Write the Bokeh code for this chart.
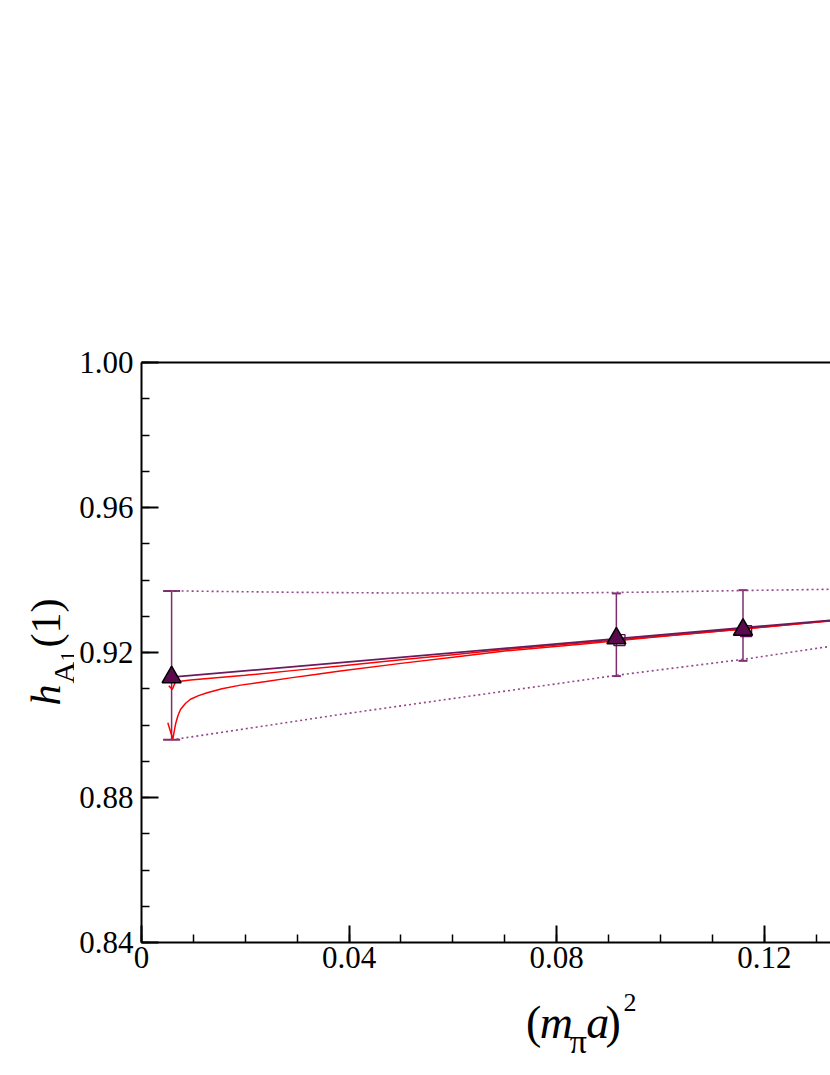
from bokeh.plotting import figure
from bokeh.layouts import row, column
from bokeh.models import Range1d, FixedTicker, LinearAxis, Whisker, ColumnDataSource, TeeHead, Label
from bokeh.embed import file_html
from bokeh.resources import INLINE

# ---------------- data ----------------
x_major = [0.0, 0.04, 0.08, 0.12]
x_labels = ["0", "0.04", "0.08", "0.12"]
x_minor = [0.01 * i for i in range(14)]
y_major = [0.84, 0.88, 0.92, 0.96, 1.00]
y_labels = ["0.84", "0.88", "0.92", "0.96", "1.00"]
y_minor = [0.84 + 0.01 * i for i in range(17)]

pt_x = [0.0058, 0.0915, 0.1159]
pt_y = [0.9132, 0.9239, 0.9263]
pt_lo = [0.8959, 0.9135, 0.9177]
pt_hi = [0.9370, 0.9363, 0.9372]

sq_x = [0.0921, 0.1165]
sq_y = [0.9234, 0.9259]

fit_x = [0.0058, 0.1360]
fit_y = [0.9132, 0.9293]

red1_x = [0.00526, 0.00592, 0.00655, 0.0075, 0.00944, 0.0150, 0.0200, 0.0290,
          0.0383, 0.0500, 0.0600, 0.0700, 0.0846, 0.1000, 0.1159, 0.1360]
red1_y = [0.9108, 0.9098, 0.9119, 0.9121, 0.9124, 0.9131, 0.9137, 0.9150,
          0.9163, 0.9180, 0.9194, 0.9208, 0.9226, 0.9245, 0.9265, 0.9292]

red2_x = [0.00507, 0.00603, 0.00655, 0.0070, 0.00751, 0.0085, 0.00944, 0.0110,
          0.01266, 0.0155, 0.01908, 0.0240, 0.02871, 0.0335, 0.0383, 0.0500,
          0.0600, 0.0700, 0.0846, 0.1000, 0.1159, 0.1360]
red2_y = [0.9006, 0.8961, 0.9002, 0.9025, 0.9043, 0.9060, 0.9071, 0.9081,
          0.9089, 0.9100, 0.9110, 0.9120, 0.9130, 0.9139, 0.9149, 0.9170,
          0.9187, 0.9204, 0.9223, 0.9244, 0.9265, 0.9291]

band_hi_x = [0.0058, 0.0300, 0.0500, 0.0800, 0.1000, 0.1159, 0.1360]
band_hi_y = [0.9370, 0.9366, 0.9364, 0.9364, 0.9367, 0.9371, 0.9375]
band_lo_x = [0.0058, 0.0383, 0.0846, 0.0915, 0.1159, 0.1360]
band_lo_y = [0.8959, 0.9029, 0.9123, 0.9137, 0.9181, 0.9224]

X_MAX = 0.13276
Y_MIN, Y_MAX = 0.84, 1.00

y_title = ["h", "A", "1", "(1)"]
x_title = ["(", "m", "π", "a", ")", "2"]

# ---------------- styles / layout ----------------
FONT = "Liberation Serif"
PURPLE = "#6a1b5e"
PURPLE_EB = "#7d2e6e"
PURPLE_DOT = "#94468a"
TRI_FILL = "#5b0a4e"
RED = "#ff0000"

TOTAL_W, TOTAL_H = 830, 1070
YT_W = 74                      # strip holding the rotated y title
FRAME_L, FRAME_T, FRAME_W, FRAME_H = 141, 362, 689, 580
MAIN_H = 983                   # main figure height (page y of its bottom)
XT_H = TOTAL_H - MAIN_H        # strip holding the x title
MAIN_W = TOTAL_W - YT_W

p = figure(width=MAIN_W, height=MAIN_H, output_backend="svg", toolbar_location=None,
           x_range=Range1d(0, X_MAX), y_range=Range1d(Y_MIN, Y_MAX),
           min_border_left=FRAME_L - YT_W, min_border_right=0, min_border_top=FRAME_T,
           min_border_bottom=MAIN_H - FRAME_T - FRAME_H)
p.outline_line_color = None
p.grid.visible = False

for ax in (p.xaxis[0], p.yaxis[0]):
    ax.axis_line_width = 2
    ax.axis_line_color = "black"
    ax.major_tick_in = 17
    ax.major_tick_out = 0
    ax.minor_tick_in = 8
    ax.minor_tick_out = 0
    ax.major_tick_line_width = 2
    ax.minor_tick_line_width = 1.5
    ax.major_label_text_font = FONT
    ax.major_label_text_font_size = "31px"
    ax.major_label_text_color = "black"

p.xaxis[0].ticker = FixedTicker(ticks=x_major, minor_ticks=x_minor)
p.xaxis[0].major_label_overrides = {v: s for v, s in zip(x_major, x_labels)}
p.xaxis[0].major_label_standoff = 4
p.yaxis[0].ticker = FixedTicker(ticks=y_major, minor_ticks=y_minor)
p.yaxis[0].major_label_overrides = {v: s for v, s in zip(y_major, y_labels)}
p.yaxis[0].major_label_standoff = 8

top = LinearAxis(ticker=FixedTicker(ticks=[]), axis_line_width=2, axis_line_color="black",
                 major_tick_in=0, major_tick_out=0, minor_tick_in=0, minor_tick_out=0,
                 major_label_text_font_size="0px")
p.add_layout(top, "above")

# ---------------- marks ----------------
p.line(band_hi_x, band_hi_y, line_color=PURPLE_DOT, line_width=1.6, line_dash="2 3")
p.line(band_lo_x, band_lo_y, line_color=PURPLE_DOT, line_width=1.6, line_dash="2 3")

src0 = ColumnDataSource(dict(x=pt_x[:1], lo=pt_lo[:1], hi=pt_hi[:1]))
src1 = ColumnDataSource(dict(x=pt_x[1:], lo=pt_lo[1:], hi=pt_hi[1:]))
for src, cap in ((src0, 17), (src1, 9)):
    wk = Whisker(source=src, base="x", lower="lo", upper="hi", dimension="height",
                 line_color=PURPLE_EB, line_width=1.5,
                 upper_head=TeeHead(size=cap, line_color=PURPLE_EB, line_width=2),
                 lower_head=TeeHead(size=cap, line_color=PURPLE_EB, line_width=2))
    p.add_layout(wk)

p.line(red1_x, red1_y, line_color=RED, line_width=1.5)
p.line(red2_x, red2_y, line_color=RED, line_width=1.5)
p.line(fit_x, fit_y, line_color=PURPLE, line_width=1.8)

p.scatter(sq_x, sq_y, marker="square", size=11, fill_color=None, line_color=TRI_FILL, line_width=1.3)
p.scatter(pt_x, pt_y, marker="triangle", size=19, fill_color=TRI_FILL, line_color="black", line_width=1.5)


# ---------------- title strips (pixel-coordinate figures holding text) ----------------
def strip(w, h):
    f = figure(width=w, height=h, output_backend="svg", toolbar_location=None,
               x_range=Range1d(0, w), y_range=Range1d(0, h),
               x_axis_type=None, y_axis_type=None,
               min_border=0, min_border_left=0, min_border_right=0,
               min_border_top=0, min_border_bottom=0)
    f.outline_line_color = None
    f.grid.visible = False
    return f


def put(f, h, txt, lx, ly, size, italic=False, angle=0.0):
    f.add_layout(Label(x=lx, y=h - ly, text=txt, text_font=FONT,
                       text_font_size=f"{size}px",
                       text_font_style="italic" if italic else "normal",
                       text_align="left", text_baseline="alphabetic",
                       angle=angle, angle_units="deg", text_color="black"))


yt = strip(YT_W, TOTAL_H)
put(yt, TOTAL_H, y_title[0], 45, 705, 42, italic=True, angle=90)
put(yt, TOTAL_H, y_title[1], 63, 683, 30, angle=90)
put(yt, TOTAL_H, y_title[2], 67, 661, 21, angle=90)
put(yt, TOTAL_H, y_title[3], 45, 647, 42, angle=90)

xt = strip(MAIN_W, XT_H)
ox, oy = YT_W, MAIN_H          # page offset of this strip
put(xt, XT_H, x_title[0], 496 - ox, 1022 - oy, 46)
put(xt, XT_H, x_title[1], 511 - ox, 1022 - oy, 46, italic=True)
put(xt, XT_H, x_title[2], 544 - ox, 1041 - oy, 34)
put(xt, XT_H, x_title[3], 562 - ox, 1022 - oy, 46, italic=True)
put(xt, XT_H, x_title[4], 583 - ox, 1022 - oy, 46)
put(xt, XT_H, x_title[5], 603 - ox, 1002 - oy, 26)

layout = row(yt, column(p, xt, spacing=0), spacing=0)
open("out.html", "w").write(file_html(layout, INLINE))
